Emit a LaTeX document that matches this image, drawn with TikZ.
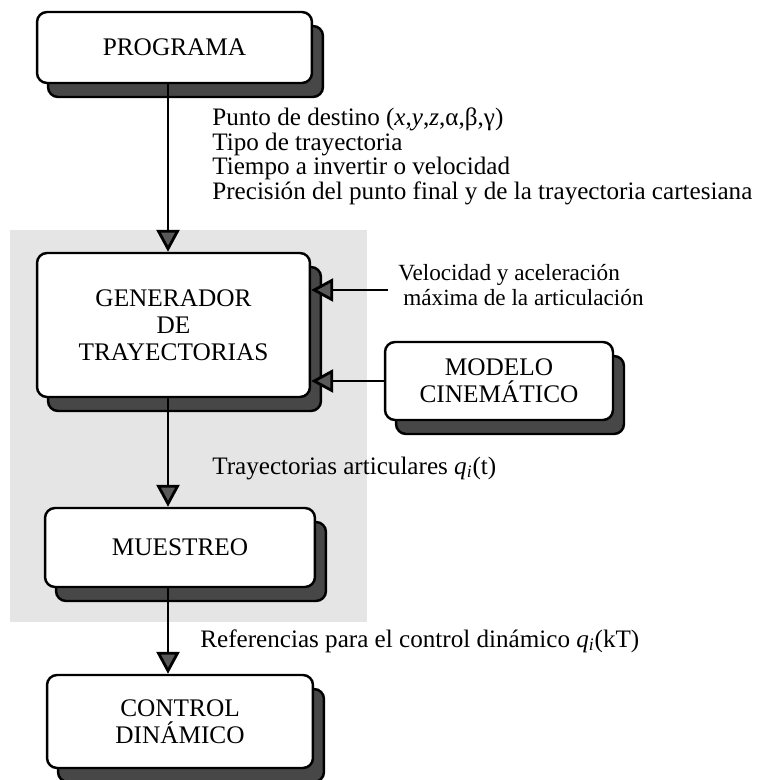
\documentclass[tikz,border=0pt]{standalone}
\usepackage{fontspec}
\setmainfont{Liberation Serif}
\usetikzlibrary{arrows.meta,shadows}

\tikzset{
  bloque/.style={draw, line width=1.4pt, fill=white, rounded corners=0.2cm,
    align=center, inner sep=0pt, font=\fontsize{14.4}{15.5}\selectfont,
    drop shadow={shadow xshift=0.22cm, shadow yshift=-0.28cm,
      fill=black!72, draw=black, opacity=1}},
  flecha/.style={line width=1.6pt,
    -{Triangle[length=0.44cm, width=0.46cm, fill=black!65]}},
  texto/.style={anchor=west, inner sep=0pt, align=left,
    font=\fontsize{14.3}{13}\selectfont}
}

\begin{document}
\begin{tikzpicture}[x=0.02cm, y=-0.02cm]
\useasboundingbox (0,0) rectangle (758,780);
\fill[black!10] (10,230) rectangle (367,622);

\node[bloque, minimum width=5.5cm, minimum height=1.42cm] (programa) at (174.5,47.5) {PROGRAMA};
\node[bloque, minimum width=5.46cm, minimum height=2.88cm] (generador) at (173.5,325) {GENERADOR\\DE\\TRAYECTORIAS};
\node[bloque, minimum width=4.56cm, minimum height=1.56cm] (modelo) at (499,381) {MODELO\\CINEMÁTICO};
\node[bloque, minimum width=5.4cm, minimum height=1.58cm] (muestreo) at (180,547.5) {MUESTREO};
\node[bloque, minimum width=5.32cm, minimum height=1.86cm] (control) at (180,721.5) {CONTROL\\DINÁMICO};

\coordinate (eje) at (168,0);
\coordinate (vel) at (388,290);

\draw[flecha] (programa.south -| eje) -- (generador.north -| eje);
\draw[flecha] (generador.south -| eje) -- (muestreo.north -| eje);
\draw[flecha] (muestreo.south -| eje) -- (control.north -| eje);
\draw[flecha] (vel) -- (generador.east |- vel);
\draw[flecha] (modelo.west) -- (generador.east |- modelo.west);

\node[texto] (destino) at (212,156.5) {Punto de destino (\textit{x},\textit{y},\textit{z},α,β,γ)\\Tipo de trayectoria\\Tiempo a invertir o velocidad\\Precisión del punto final y de la trayectoria cartesiana};
\node[texto, font=\fontsize{13.2}{14.2}\selectfont] (limites) at (398,285.5) {Velocidad y aceleración\\\hspace{0.1cm}máxima de la articulación};
\node[texto] (articulares) at (212,468) {Trayectorias articulares \textit{q}\textsubscript{\textit{i}}(t)};
\node[texto] (referencias) at (200,641) {Referencias para el control dinámico \textit{q}\textsubscript{\textit{i}}(kT)};
\end{tikzpicture}
\end{document}
